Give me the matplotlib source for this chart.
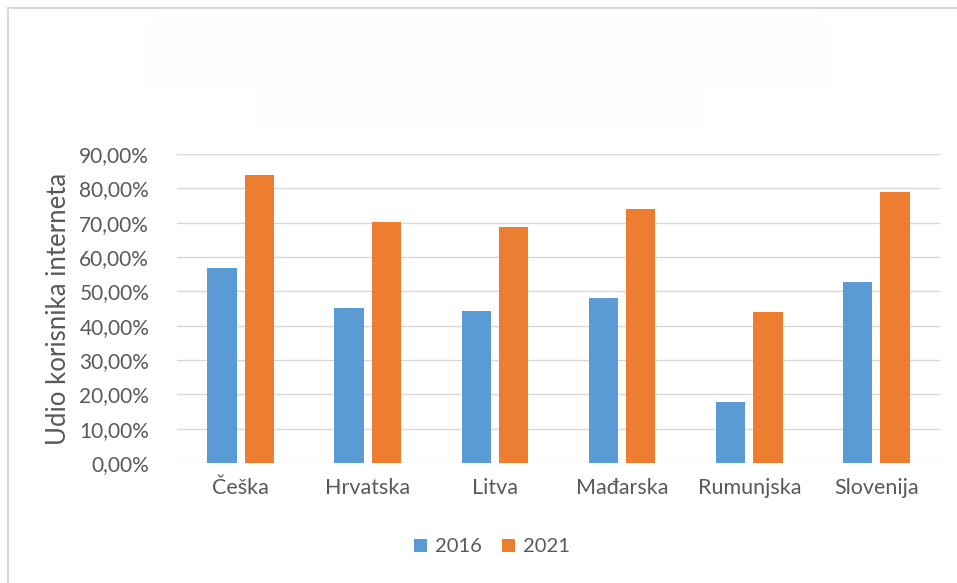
import numpy as np
import matplotlib
matplotlib.use('Agg')
from matplotlib import pyplot as plt
from matplotlib.patches import FancyBboxPatch
from matplotlib.lines import Line2D
from matplotlib.ticker import FuncFormatter

countries = ['Češka', 'Hrvatska', 'Litva', 'Mađarska', 'Rumunjska', 'Slovenija']
y2016 = [0.567, 0.451, 0.443, 0.481, 0.179, 0.526]
y2021 = [0.840, 0.702, 0.687, 0.740, 0.439, 0.790]
years = ['2016', '2021']

plt.rcParams['font.family'] = ['Lato', 'DejaVu Sans']
text_col = '#595959'

fig = plt.figure(figsize=(9.57, 5.83), dpi=100)
W, H = 957, 583

# chart border (top and left visible)
fig.add_artist(Line2D([8 / W, 1], [1 - 8 / H, 1 - 8 / H], color='#d9d9d9', lw=1.5))
fig.add_artist(Line2D([8 / W, 8 / W], [0, 1 - 8 / H], color='#d9d9d9', lw=1.5))

# blanked-out title area
fig.add_artist(FancyBboxPatch((143 / W, 1 - 92 / H), 692 / W, 77 / H,
                              boxstyle='round,pad=0,rounding_size=0.03',
                              fc='#fefefe', ec='none'))
fig.add_artist(FancyBboxPatch((255 / W, 1 - 132 / H), 455 / W, 45 / H,
                              boxstyle='round,pad=0,rounding_size=0.03',
                              fc='#fefefe', ec='none'))

ax = fig.add_axes([177 / W, 1 - 463 / H, (940 - 177) / W, (463 - 154) / H])
x = np.arange(len(countries))
w = 0.23
ax.bar(x - 0.147, y2016, w, color='#5b9bd5', label=years[0], zorder=3)
ax.bar(x + 0.147, y2021, w, color='#ed7d31', label=years[1], zorder=3)

ax.set_xlim(-0.5, len(countries) - 0.5)
ax.set_ylim(0, 0.9)
ax.set_yticks(np.arange(0, 0.91, 0.1))
ax.yaxis.set_major_formatter(FuncFormatter(lambda v, p: ('%.2f%%' % (v * 100)).replace('.', ',')))
ax.grid(axis='y', color='#d9d9d9', lw=1, zorder=0)
for s in ax.spines.values():
    s.set_visible(False)
ax.tick_params(length=0, colors=text_col)
ax.tick_params(axis='y', pad=20, labelsize=15)
ax.tick_params(axis='x', pad=11, labelsize=15.5)
ax.set_xticks(x)
ax.set_xticklabels(countries)
ax.set_ylabel('Udio korisnika interneta', color=text_col, fontsize=18.5, labelpad=6)

ax.legend(loc='center', bbox_to_anchor=(492 / W, 1 - 547 / H), bbox_transform=fig.transFigure,
          ncol=2, frameon=False, fontsize=14.5, labelcolor=text_col,
          handlelength=0.65, handleheight=0.65, handletextpad=0.4, columnspacing=1.0)

plt.savefig('out.png', dpi=100)
